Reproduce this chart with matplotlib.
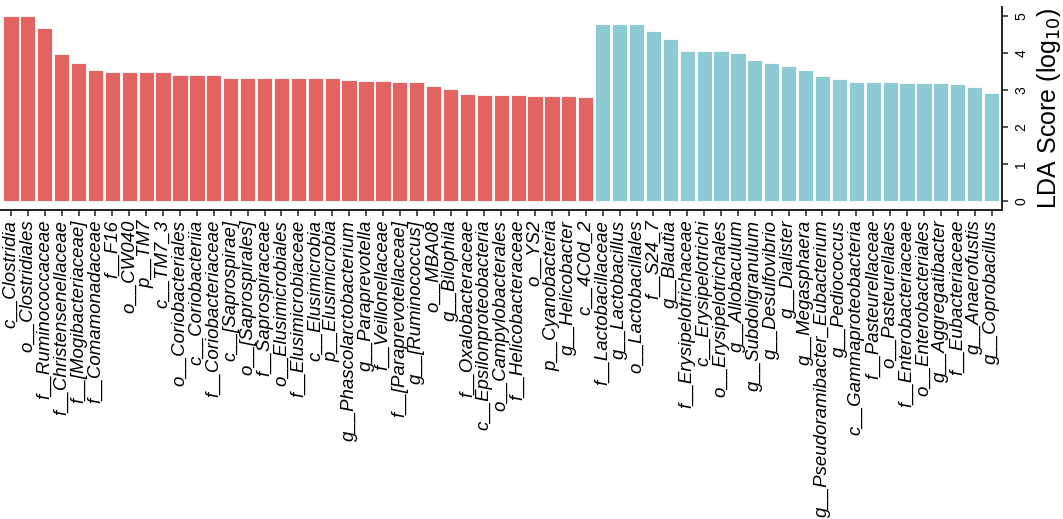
import matplotlib
matplotlib.use("Agg")
import matplotlib.pyplot as plt
import numpy as np

# taxa enriched in the first group (red) and second group (teal)
red_taxa = [
    "c__Clostridia", "o__Clostridiales", "f__Ruminococcaceae", "f__Christensenellaceae",
    "f__[Mogibacteriaceae]", "f__Comamonadaceae", "f__F16", "o__CW040", "p__TM7",
    "c__TM7_3", "o__Coriobacteriales", "c__Coriobacteriia", "f__Coriobacteriaceae",
    "c__[Saprospirae]", "o__[Saprospirales]", "f__Saprospiraceae", "o__Elusimicrobiales",
    "f__Elusimicrobiaceae", "c__Elusimicrobia", "p__Elusimicrobia",
    "g__Phascolarctobacterium", "g__Paraprevotella", "f__Veillonellaceae",
    "f__[Paraprevotellaceae]", "g__[Ruminococcus]", "o__MBA08", "g__Bilophila",
    "f__Oxalobacteraceae", "c__Epsilonproteobacteria", "o__Campylobacterales",
    "f__Helicobacteraceae", "o__YS2", "p__Cyanobacteria", "g__Helicobacter", "c__4C0d_2",
]
red_lda = [5.0, 5.0, 4.67, 3.99, 3.74, 3.53, 3.50, 3.50, 3.50, 3.50,
           3.40, 3.40, 3.40, 3.33, 3.33, 3.33, 3.32, 3.32, 3.32, 3.32,
           3.26, 3.25, 3.25, 3.23, 3.21, 3.12, 3.02, 2.88, 2.86, 2.86,
           2.86, 2.84, 2.84, 2.84, 2.82]

teal_taxa = [
    "f__Lactobacillaceae", "g__Lactobacillus", "o__Lactobacillales", "f__S24_7",
    "g__Blautia", "f__Erysipelotrichaceae", "c__Erysipelotrichi", "o__Erysipelotrichales",
    "g__Allobaculum", "g__Subdoligranulum", "g__Desulfovibrio", "g__Dialister",
    "g__Megasphaera", "g__Pseudoramibacter_Eubacterium", "g__Pediococcus",
    "c__Gammaproteobacteria", "f__Pasteurellaceae", "o__Pasteurellales",
    "f__Enterobacteriaceae", "o__Enterobacteriales", "g__Aggregatibacter",
    "f__Eubacteriaceae", "g__Anaerofustis", "g__Coprobacillus",
]
teal_lda = [4.80, 4.80, 4.80, 4.60, 4.38, 4.05, 4.05, 4.05, 4.00, 3.82,
            3.74, 3.64, 3.54, 3.37, 3.30, 3.23, 3.23, 3.23, 3.20, 3.20,
            3.19, 3.17, 3.09, 2.92]

red_col = "#E16462"
teal_col = "#8ECAD3"

plt.rcParams["font.family"] = ["Liberation Sans", "DejaVu Sans"]

labels = red_taxa + teal_taxa
values = red_lda + teal_lda
colors = [red_col] * len(red_taxa) + [teal_col] * len(teal_taxa)
x = np.arange(1, len(labels) + 1)

fig = plt.figure(figsize=(10.63, 5.19), dpi=100)
ax = fig.add_axes([0.8 / 1063, (519 - 210) / 519, (1001.7 - 0.8) / 1063, 203 / 519])

ax.bar(x, values, width=0.9, color=colors, edgecolor="white", linewidth=0.6)

ax.set_xlim(0.4, len(labels) + 0.6)
ax.set_ylim(-0.25, 5.25)

ax.yaxis.tick_right()
ax.yaxis.set_label_position("right")
ax.set_yticks([0, 1, 2, 3, 4, 5])
ax.set_yticklabels(["0", "1", "2", "3", "4", "5"], rotation=90, va="center", fontsize=10)
ax.set_ylabel(r"LDA Score (log$_{10}$)", fontsize=18, labelpad=5)

ax.set_xticks(x)
ax.set_xticklabels(labels, rotation=90, fontsize=13.4, style="italic", va="top", ha="center")

for s in ["top", "left"]:
    ax.spines[s].set_visible(False)
for s in ["bottom", "right"]:
    ax.spines[s].set_linewidth(1.4)
    ax.spines[s].set_color("#222222")
ax.tick_params(axis="both", length=4, width=1.1, color="#222222", pad=3)
ax.tick_params(axis="y", pad=5)

fig.savefig("out.png", dpi=100)
